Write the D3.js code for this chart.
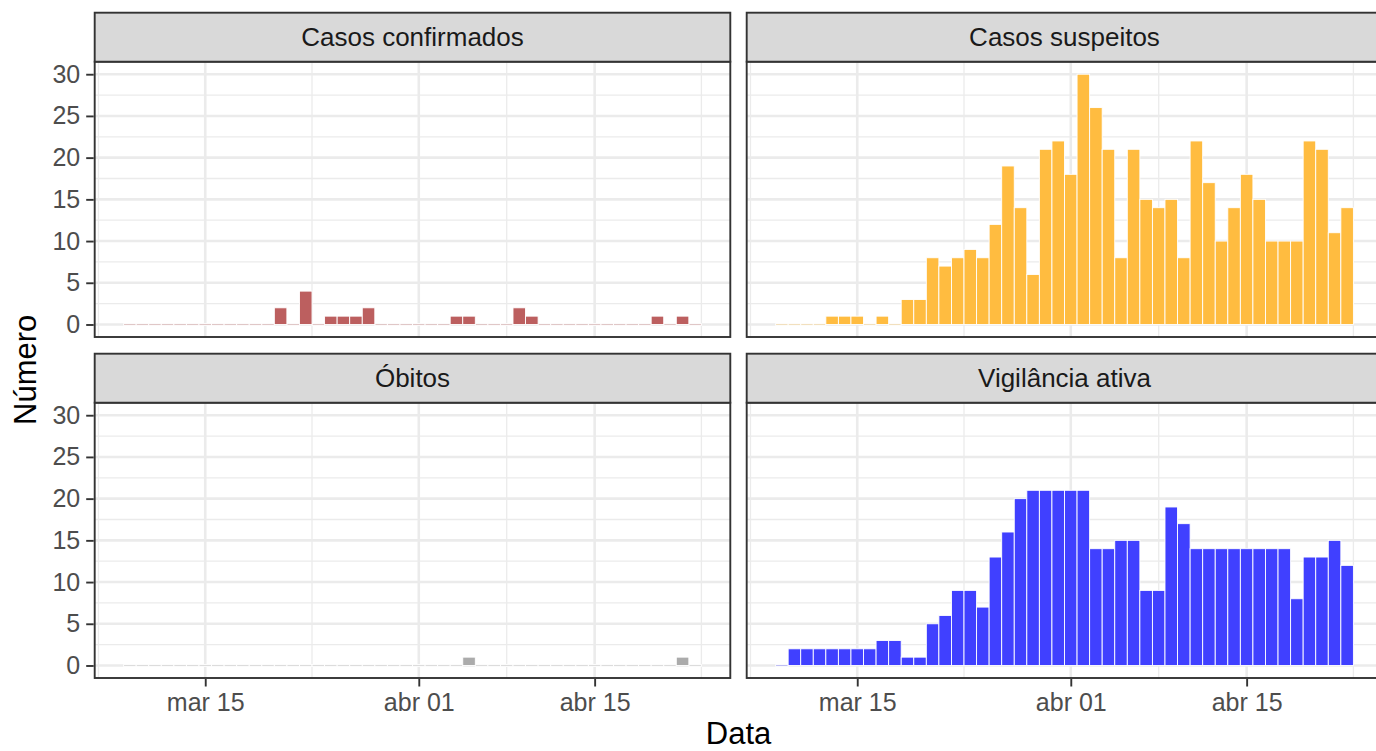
<!DOCTYPE html>
<html>
<head>
<meta charset="utf-8">
<script src="https://cdn.jsdelivr.net/npm/d3@7"></script>
<style>
  body { margin: 0; background: #ffffff; }
  svg text { font-family: "Liberation Sans", Arial, Helvetica, sans-serif; }
</style>
</head>
<body>
<svg id="chart" width="1376" height="751"></svg>
<script>
// Daily counts, 9 March to 23 April
const dates = [
  "2020-03-09","2020-03-10","2020-03-11","2020-03-12","2020-03-13","2020-03-14","2020-03-15",
  "2020-03-16","2020-03-17","2020-03-18","2020-03-19","2020-03-20","2020-03-21","2020-03-22",
  "2020-03-23","2020-03-24","2020-03-25","2020-03-26","2020-03-27","2020-03-28","2020-03-29",
  "2020-03-30","2020-03-31","2020-04-01","2020-04-02","2020-04-03","2020-04-04","2020-04-05",
  "2020-04-06","2020-04-07","2020-04-08","2020-04-09","2020-04-10","2020-04-11","2020-04-12",
  "2020-04-13","2020-04-14","2020-04-15","2020-04-16","2020-04-17","2020-04-18","2020-04-19",
  "2020-04-20","2020-04-21","2020-04-22","2020-04-23"
];

const panelTitles = ["Casos confirmados", "Casos suspeitos", "Óbitos", "Vigilância ativa"];

const confirmados = [0,0,0,0,0,0,0,0,0,0,0,0,2,0,4,0,1,1,1,2,0,0,0,0,0,0,1,1,0,0,0,2,1,0,0,0,0,0,0,0,0,0,1,0,1,0];
const suspeitos   = [0,0,0,0,1,1,1,0,1,0,3,3,8,7,8,9,8,12,19,14,6,21,22,18,30,26,21,8,21,15,14,15,8,22,17,10,14,18,15,10,10,10,22,21,11,14];
const obitos      = [0,0,0,0,0,0,0,0,0,0,0,0,0,0,0,0,0,0,0,0,0,0,0,0,0,0,0,1,0,0,0,0,0,0,0,0,0,0,0,0,0,0,0,0,1,0];
const vigilancia  = [0,2,2,2,2,2,2,2,3,3,1,1,5,6,9,9,7,13,16,20,21,21,21,21,21,14,14,15,15,9,9,19,17,14,14,14,14,14,14,14,14,8,13,13,15,12];

const xTickDates  = ["2020-03-15", "2020-04-01", "2020-04-15"];
const xTickLabels = ["mar 15", "abr 01", "abr 15"];
const yTicks = [0, 5, 10, 15, 20, 25, 30];

const fills = ["#BC5F5F", "#FFBC40", "#ABABAB", "#4040FF"];
const seriesList = [confirmados, suspeitos, obitos, vigilancia];

// ---- layout -------------------------------------------------------------
const svg = d3.select("#chart");
const cols = [{x0: 94.7, x1: 730.3}, {x0: 746.7, x1: 1382.3}];
const rows = [{s0: 12.7, p0: 61.7, p1: 337}, {s0: 353.7, p0: 402.7, p1: 678}];

const DAY = 864e5;
const parse = d3.utcParse("%Y-%m-%d");
const dateObjs = dates.map(parse);
const first = dateObjs[0], last = dateObjs[dateObjs.length - 1];
// bars span one day; add 5% padding on each side of the bar range
const span = (last - first) + DAY;
const pad = span * 0.05;
const xDomain = [new Date(+first - DAY / 2 - pad), new Date(+last + DAY / 2 + pad)];

const majorDates = xTickDates.map(parse);
// minor breaks: halfway between majors, extended one step each side
const step = majorDates[1] - majorDates[0];
const ext = [new Date(+majorDates[0] - step), ...majorDates, new Date(+majorDates[majorDates.length - 1] + step)];
const minorDates = [];
for (let i = 0; i < ext.length - 1; i++) minorDates.push(new Date((+ext[i] + +ext[i + 1]) / 2));

const yMinor = [2.5, 7.5, 12.5, 17.5, 22.5, 27.5];

const gridCol = "#EBEBEB";
const frameCol = "#333333";

panelTitles.forEach((title, k) => {
  const r = rows[Math.floor(k / 2)], c = cols[k % 2];
  const x = d3.scaleUtc().domain(xDomain).range([c.x0, c.x1]);
  const y = d3.scaleLinear().domain([-1.5, 31.5]).range([r.p1, r.p0]);
  const g = svg.append("g");

  g.append("rect").attr("x", c.x0).attr("y", r.p0)
    .attr("width", c.x1 - c.x0).attr("height", r.p1 - r.p0).attr("fill", "#fff");

  // grid
  const inRange = d => x(d) >= c.x0 && x(d) <= c.x1;
  g.selectAll(".ymin").data(yMinor).join("line")
    .attr("x1", c.x0).attr("x2", c.x1).attr("y1", d => y(d)).attr("y2", d => y(d))
    .attr("stroke", gridCol).attr("stroke-width", 1.3);
  g.selectAll(".xmin").data(minorDates.filter(inRange)).join("line")
    .attr("x1", d => x(d)).attr("x2", d => x(d)).attr("y1", r.p0).attr("y2", r.p1)
    .attr("stroke", gridCol).attr("stroke-width", 1.3);
  g.selectAll(".ymaj").data(yTicks).join("line")
    .attr("x1", c.x0).attr("x2", c.x1).attr("y1", d => y(d)).attr("y2", d => y(d))
    .attr("stroke", gridCol).attr("stroke-width", 2.6);
  g.selectAll(".xmaj").data(majorDates).join("line")
    .attr("x1", d => x(d)).attr("x2", d => x(d)).attr("y1", r.p0).attr("y2", r.p1)
    .attr("stroke", gridCol).attr("stroke-width", 2.6);

  // bars
  const vals = seriesList[k];
  const bars = dateObjs.map((d, i) => ({d, v: vals[i]}));
  g.selectAll(".zero").data(bars.filter(b => b.v === 0)).join("rect")
    .attr("x", b => x(new Date(+b.d - DAY / 2)))
    .attr("width", b => x(new Date(+b.d + DAY / 2)) - x(new Date(+b.d - DAY / 2)))
    .attr("y", y(0) - 0.9).attr("height", 1.8)
    .attr("fill", fills[k]).attr("fill-opacity", 0.3)
    .attr("stroke", "#fff").attr("stroke-width", 0.9);
  g.selectAll(".bar").data(bars.filter(b => b.v > 0)).join("rect")
    .attr("x", b => x(new Date(+b.d - DAY / 2)))
    .attr("width", b => x(new Date(+b.d + DAY / 2)) - x(new Date(+b.d - DAY / 2)))
    .attr("y", b => y(b.v)).attr("height", b => y(0) - y(b.v))
    .attr("fill", fills[k])
    .attr("stroke", "#fff").attr("stroke-width", 0.9);

  // panel frame
  g.append("rect").attr("x", c.x0).attr("y", r.p0)
    .attr("width", c.x1 - c.x0).attr("height", r.p1 - r.p0)
    .attr("fill", "none").attr("stroke", frameCol).attr("stroke-width", 1.9);

  // strip
  g.append("rect").attr("x", c.x0).attr("y", r.s0)
    .attr("width", c.x1 - c.x0).attr("height", r.p0 - r.s0)
    .attr("fill", "#D9D9D9").attr("stroke", frameCol).attr("stroke-width", 1.9);
  g.append("text").attr("x", (c.x0 + c.x1) / 2).attr("y", (r.s0 + r.p0) / 2 + 9.2)
    .attr("text-anchor", "middle").attr("fill", "#1A1A1A").attr("font-size", 26)
    .text(title);

  // axes
  if (k % 2 === 0) {
    const ay = g.append("g").attr("transform", `translate(${c.x0 - 1},0)`)
      .call(d3.axisLeft(y).tickValues(yTicks).tickSize(7.5).tickPadding(6));
    ay.select(".domain").remove();
    ay.selectAll(".tick line").attr("stroke", frameCol).attr("stroke-width", 1.9);
    ay.selectAll(".tick text").attr("fill", "#4D4D4D").attr("font-size", 25)
      .attr("font-family", "Liberation Sans, Arial, sans-serif");
  }
  if (k >= 2) {
    const ax = g.append("g").attr("transform", `translate(0,${r.p1 + 1})`)
      .call(d3.axisBottom(x).tickValues(majorDates)
        .tickFormat((d, i) => xTickLabels[i]).tickSize(7.5).tickPadding(7));
    ax.select(".domain").remove();
    ax.selectAll(".tick line").attr("stroke", frameCol).attr("stroke-width", 1.9);
    ax.selectAll(".tick text").attr("fill", "#4D4D4D").attr("font-size", 25)
      .attr("font-family", "Liberation Sans, Arial, sans-serif");
  }
});

// axis titles
svg.append("text").attr("x", (cols[0].x0 + cols[1].x1) / 2).attr("y", 744)
  .attr("text-anchor", "middle").attr("font-size", 31).attr("fill", "#000").text("Data");
svg.append("text").attr("transform", `translate(36,${(rows[0].p0 + rows[1].p1) / 2}) rotate(-90)`)
  .attr("text-anchor", "middle").attr("font-size", 31).attr("fill", "#000").text("Número");
</script>
</body>
</html>
